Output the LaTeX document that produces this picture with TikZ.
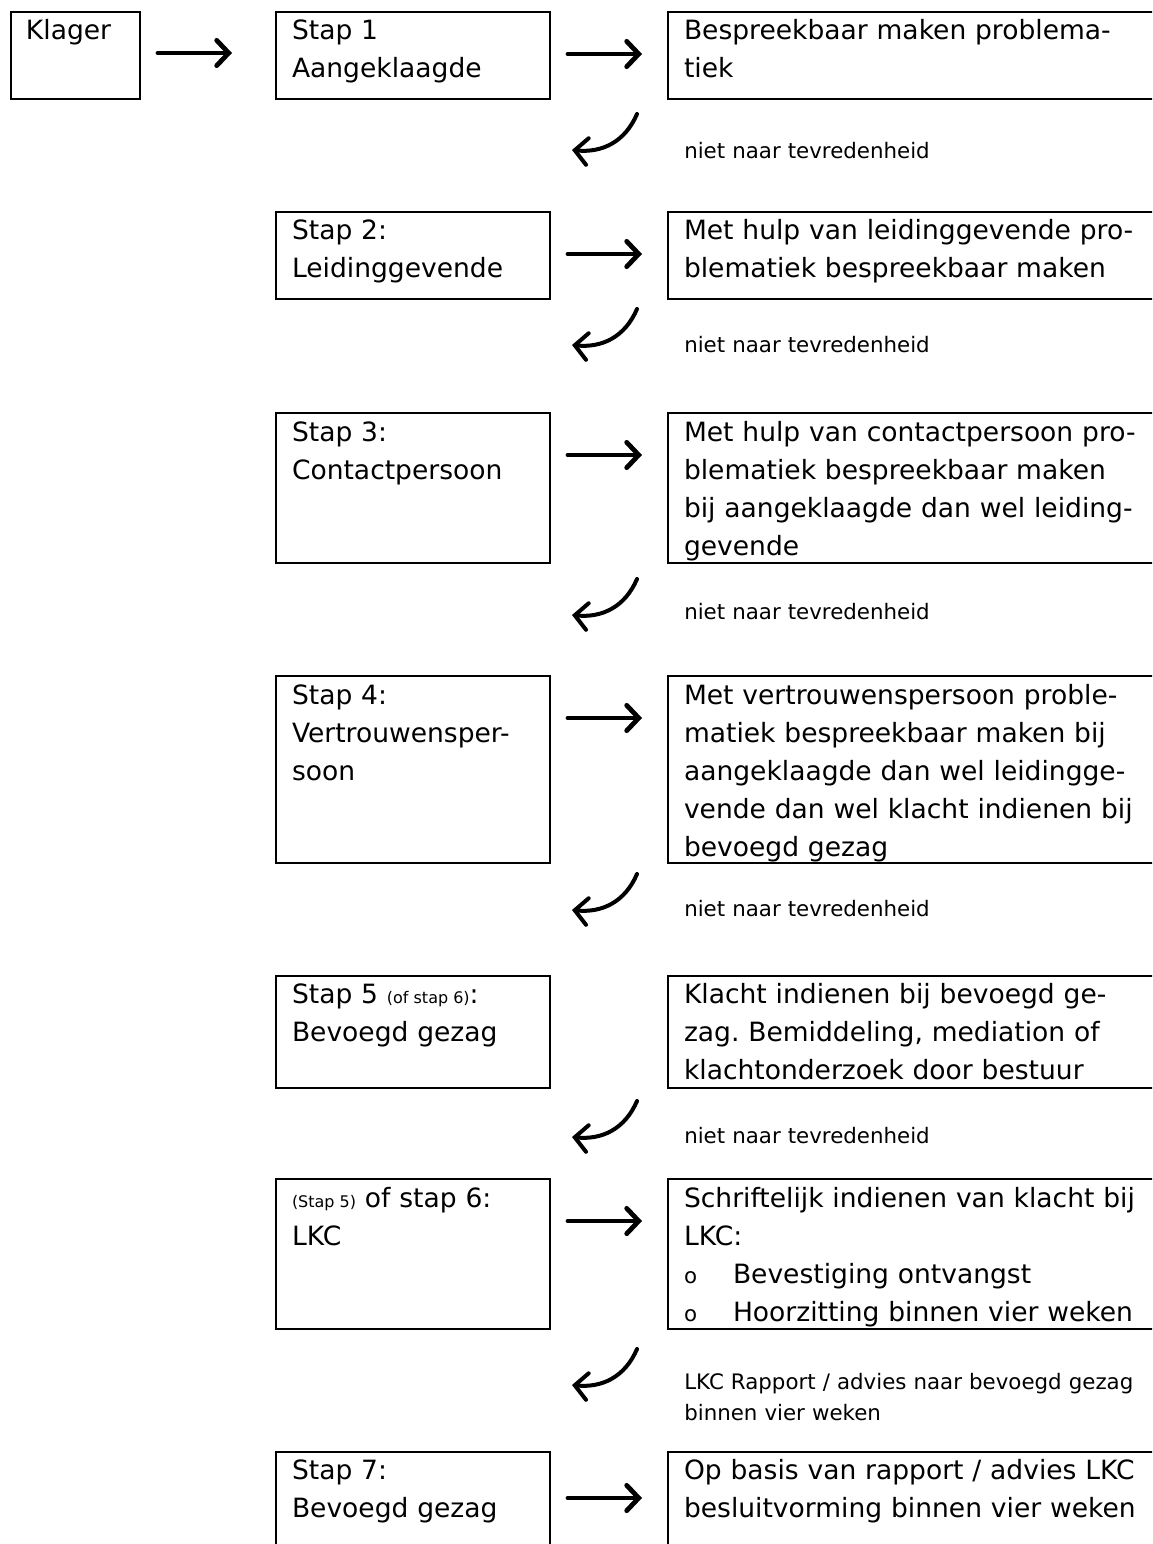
\documentclass[tikz,border=0pt]{standalone}
\usepackage{fontspec}
\setmainfont{DejaVu Sans}
\usetikzlibrary{arrows.meta}
\begin{document}
\begin{tikzpicture}[x=0.75pt,y=-0.75pt,
  box/.style={draw,line width=1.65pt,inner sep=0pt,outer sep=0pt,anchor=north west},
  lbox/.style={box,minimum width=205.5pt},
  rbox/.style={box,minimum width=380pt},
  maintxt/.style={anchor=base west,inner sep=0pt,outer sep=0pt,align=left,
    font=\fontsize{19.9pt}{28.5pt}\selectfont\frenchspacing},
  ltxt/.style={maintxt,text width=200pt},
  rtxt/.style={maintxt,text width=370pt},
  smalltxt/.style={anchor=base west,inner sep=0pt,align=left,text width=360pt,
    font=\fontsize{16pt}{23.5pt}\selectfont\frenchspacing},
  harrow/.style={line width=3.6pt,line cap=round,-{Straight Barb[length=9pt,width=19pt,line cap=round]}},
  carrow/.style={line width=3pt,line cap=round,-{Straight Barb[length=9.5pt,width=20pt,line cap=round]}}
]
\path[use as bounding box] (0,0) rectangle (1152,1544);
\clip (0,0) rectangle (1152,1544);

\newcommand{\sm}[1]{{\fontsize{12pt}{14pt}\selectfont\spaceskip=0pt\relax #1}}
\newcommand{\bul}{\makebox[36.75pt][l]{\fontsize{16pt}{16pt}\selectfont o}}

% row 0 / 1
\node[box,minimum width=96.75pt,minimum height=65.25pt] (K) at (11,12) {};
\node[maintxt] (Kt) at (26,40) {Klager};
\node[lbox,minimum height=65.25pt] (L1) at (276,12) {};
\node[ltxt] (L1t) at (292,40) {Stap 1\\Aangeklaagde};
\node[rbox,minimum height=65.25pt] (R1) at (668,12) {};
\node[rtxt] (R1t) at (684,40) {Bespreekbaar maken problema-\\tiek};

% row 2
\node[lbox,minimum height=65.25pt] (L2) at (276,212) {};
\node[ltxt] (L2t) at (292,240) {Stap 2:\\Leidinggevende};
\node[rbox,minimum height=65.25pt] (R2) at (668,212) {};
\node[rtxt] (R2t) at (684,240) {Met hulp van leidinggevende pro-\\blematiek bespreekbaar maken};

% row 3
\node[lbox,minimum height=112.5pt] (L3) at (276,413) {};
\node[ltxt] (L3t) at (292,441) {Stap 3:\\Contactpersoon};
\node[rbox,minimum height=112.5pt] (R3) at (668,413) {};
\node[rtxt] (R3t) at (684,441) {Met hulp van contactpersoon pro-\\blematiek bespreekbaar maken\\bij aangeklaagde dan wel leiding-\\gevende};

% row 4
\node[lbox,minimum height=140.25pt] (L4) at (276,676) {};
\node[ltxt] (L4t) at (292,704) {Stap 4:\\Vertrouwensper-\\soon};
\node[rbox,minimum height=140.25pt] (R4) at (668,676) {};
\node[rtxt] (R4t) at (684,704) {Met vertrouwenspersoon proble-\\matiek bespreekbaar maken bij\\aangeklaagde dan wel leidingge-\\vende dan wel klacht indienen bij\\bevoegd gezag};

% row 5
\node[lbox,minimum height=84pt] (L5) at (276,976) {};
\node[ltxt] (L5t) at (292,1003) {Stap 5 \sm{(of stap 6)}:\\Bevoegd gezag};
\node[rbox,minimum height=84pt] (R5) at (668,976) {};
\node[rtxt] (R5t) at (684,1003) {Klacht indienen bij bevoegd ge-\\zag. Bemiddeling, mediation of\\klachtonderzoek door bestuur};

% row 6
\node[lbox,minimum height=112.5pt] (L6) at (276,1179) {};
\node[ltxt] (L6t) at (292,1207) {\sm{(Stap 5)} of stap 6:\\LKC};
\node[rbox,minimum height=112.5pt] (R6) at (668,1179) {};
\node[rtxt] (R6t) at (684,1207) {Schriftelijk indienen van klacht bij\\LKC:\\\bul Bevestiging ontvangst\\\bul Hoorzitting binnen vier weken};

% row 7
\node[lbox,minimum height=95pt] (L7) at (276,1452) {};
\node[ltxt] (L7t) at (292,1479) {Stap 7:\\Bevoegd gezag};
\node[rbox,minimum height=95pt] (R7) at (668,1452) {};
\node[rtxt] (R7t) at (684,1479) {Op basis van rapport / advies LKC\\besluitvorming binnen vier weken};

% horizontal arrows
\draw[harrow] ([shift={(18,41)}]K.north east) -- ([shift={(-44,41)}]L1.north west);
\foreach \a/\b in {L1/R1,L2/R2,L3/R3,L4/R4,L6/R6}
  \draw[harrow] ([shift={(18,42)}]\a.north east) -- ([shift={(-26,42)}]\b.north west);
\draw[harrow] ([shift={(18,46)}]L7.north east) -- ([shift={(-26,46)}]R7.north west);

% curved arrows and labels
\foreach \i/\ty in {1/150,2/345,3/615,4/910,5/1137,6/1385}{
  \coordinate (cs\i) at (637,\ty-36);
  \coordinate (ct\i) at (572,\ty);
  \draw[carrow] (cs\i) .. controls +(-12,28) and +(30,3) .. (ct\i);
}
\foreach \i/\ty in {1/159,2/352,3/619,4/916,5/1143}
  \node[smalltxt] (n\i) at (684,\ty) {niet naar tevredenheid};
\node[smalltxt] (n6) at (684,1389) {LKC Rapport / advies naar bevoegd gezag\\binnen vier weken};
\end{tikzpicture}
\end{document}
